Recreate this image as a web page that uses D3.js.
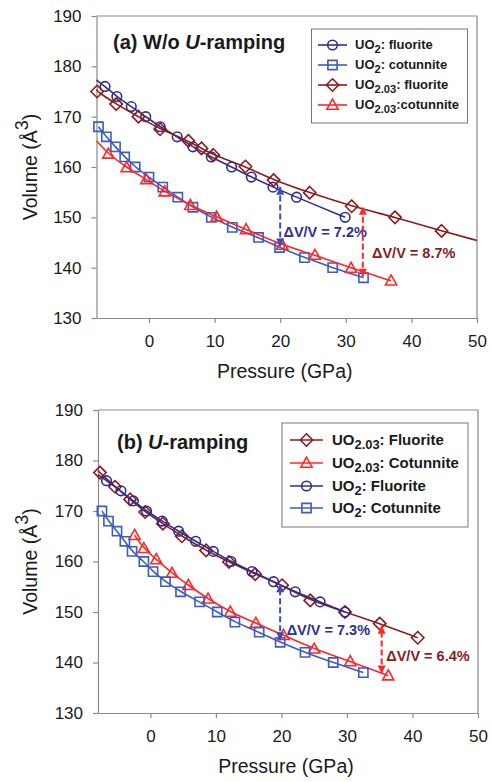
<!DOCTYPE html>
<html>
<head>
<meta charset="utf-8">
<script src="https://cdn.jsdelivr.net/npm/d3@7"></script>
<style>
  body { margin: 0; background: #fff; }
  text { font-family: "Liberation Sans", Arial, sans-serif; }
</style>
</head>
<body>
<svg width="491" height="782"></svg>
<script>
// ---- values ----
var volumeTicks = [130, 140, 150, 160, 170, 180, 190];
var pressureTicks = [0, 10, 20, 30, 40, 50];

// (a) W/o U-ramping
var aUO2FluP = [-6.7, -4.9, -2.7, -0.5, 1.7, 4.3, 6.7, 9.5, 12.6, 15.6, 18.9, 22.5, 29.9];
var aUO2FluV = [176, 174, 172, 170, 168, 166, 164, 162, 160, 158, 156, 154, 150];
var aUO2CotP = [-7.7, -6.5, -5.1, -3.7, -2.1, 0, 2.1, 4.4, 6.7, 9.5, 12.7, 16.7, 19.9, 23.7, 28, 32.7];
var aUO2CotV = [168, 166, 164, 162, 160, 158, 156, 154, 152, 150, 148, 146, 144, 142, 140, 138];
var aUO203FluP = [-7.9, -5, -1.6, 1.7, 6, 8, 9.8, 14.7, 19, 24.5, 30.9, 37.5, 44.6];
var aUO203FluV = [175, 172.5, 170, 167.5, 165.2, 163.7, 162.4, 160.1, 157.4, 154.9, 152.2, 150, 147.3];
var aUO203CotP = [-6.2, -3.4, -0.4, 2.4, 6.3, 10.3, 14.8, 20.3, 25.3, 30.8, 36.9];
var aUO203CotV = [162.6, 159.9, 157.5, 155.1, 152.4, 150.1, 147.6, 144.5, 142.5, 139.9, 137.4];

// (b) U-ramping
var bUO203FluP = [-7.7, -5.4, -3.1, -0.8, 1.9, 4.8, 8.5, 12, 16, 20.1, 24.4, 29.7, 35, 40.8];
var bUO203FluV = [177.6, 174.8, 172.3, 169.8, 167.5, 165, 162.2, 159.9, 157.5, 155.3, 152.3, 150, 147.7, 144.9];
var bUO203CotP = [-2.4, -1, 0.9, 3.3, 5.8, 8.8, 12.2, 16.1, 20.3, 25, 30.5, 36.3];
var bUO203CotV = [165.2, 162.6, 160.4, 157.7, 155.3, 152.6, 150, 147.8, 145.4, 142.7, 140.2, 137.4];
var bUO2FluP = [-6.7, -4.5, -2.6, -0.6, 1.8, 4.3, 6.9, 9.6, 12.3, 15.5, 18.8, 22.1, 25.9, 29.7];
var bUO2FluV = [176, 174, 172, 170, 168, 166, 164, 162, 160, 158, 156, 154, 152, 150];
var bUO2CotP = [-7.4, -6.4, -5.1, -3.9, -2.8, -1, 0.4, 2.3, 4.6, 7.5, 10.2, 12.9, 16.6, 19.8, 23.6, 27.9, 32.5];
var bUO2CotV = [170, 168, 166, 164, 162, 160, 158, 156, 154, 152, 150, 148, 146, 144, 142, 140, 138];

var NAVY = "#2e2e8e", BLUE = "#3c5cbf", DKRED = "#8b1c1c", RED = "#ff2626";

function zipPV(p, v) { return p.map(function (d, i) { return [d, v[i]]; }); }

var panels = [
  {
    top: 16, bottom: 318, left: 96.5, right: 477,
    title: ["(a) W/o ", "U", "-ramping"], titleX: 113, titleY: 49,
    series: [
      { name: ["UO", "2", ": fluorite"], color: NAVY, shape: "circle", pts: zipPV(aUO2FluP, aUO2FluV), start: [-8, 177.3] },
      { name: ["UO", "2", ": cotunnite"], color: BLUE, shape: "square", pts: zipPV(aUO2CotP, aUO2CotV) },
      { name: ["UO", "2.03", ": fluorite"], color: DKRED, shape: "diamond", pts: zipPV(aUO203FluP, aUO203FluV), start: [-8, 175.4], end: [50, 145.4] },
      { name: ["UO", "2.03", ":cotunnite"], color: RED, shape: "triangle", pts: zipPV(aUO203CotP, aUO203CotV), start: [-8, 165.2] }
    ],
    legend: { x0: 311.5, y0: 29, w: 156, h: 94, rows: [45, 65, 85, 105], l0: 318, l1: 347, tx: 355, fs: 13 },
    arrows: [
      { p: 20, v0: 144.2, v1: 156.1, color: "#3a4db5", label: "\u0394V/V = 7.2%", lp: 20.5, lv: 147, lc: "#2e3192" },
      { p: 32.6, v0: 138.2, v1: 152.1, color: RED, label: "\u0394V/V = 8.7%", lp: 34, lv: 142.9, lc: DKRED }
    ]
  },
  {
    top: 410, bottom: 713, left: 98, right: 478,
    title: ["(b) ", "U", "-ramping"], titleX: 117, titleY: 449,
    series: [
      { name: ["UO", "2.03", ": Fluorite"], color: DKRED, shape: "diamond", pts: zipPV(bUO203FluP, bUO203FluV), start: [-8, 178] },
      { name: ["UO", "2.03", ": Cotunnite"], color: RED, shape: "triangle", pts: zipPV(bUO203CotP, bUO203CotV) },
      { name: ["UO", "2", ": Fluorite"], color: NAVY, shape: "circle", pts: zipPV(bUO2FluP, bUO2FluV), start: [-8, 177.2] },
      { name: ["UO", "2", ": Cotunnite"], color: BLUE, shape: "square", pts: zipPV(bUO2CotP, bUO2CotV) }
    ],
    legend: { x0: 282, y0: 423, w: 186, h: 104, rows: [440, 463, 486, 508], l0: 290, l1: 323, tx: 332, fs: 15 },
    arrows: [
      { p: 19.8, v0: 144.4, v1: 155.5, color: "#3a4db5", label: "\u0394V/V = 7.3%", lp: 20.8, lv: 146.5, lc: "#2e3192" },
      { p: 35.3, v0: 137.8, v1: 147.3, color: RED, label: "\u0394V/V = 6.4%", lp: 36, lv: 141.2, lc: DKRED }
    ]
  }
];

var svg = d3.select("svg");

// arrowheads
var defs = svg.append("defs");
["#3a4db5", RED].forEach(function (c, i) {
  defs.append("marker")
    .attr("id", "ah" + i)
    .attr("viewBox", "0 0 10 10")
    .attr("refX", 10).attr("refY", 5)
    .attr("markerWidth", 9).attr("markerHeight", 8)
    .attr("markerUnits", "userSpaceOnUse")
    .attr("orient", "auto-start-reverse")
    .append("path").attr("d", "M0,0 L10,5 L0,10 z").attr("fill", c);
});

function shapePath(shape) {
  if (shape === "circle") return "M-4.8,0 A4.8,4.8 0 1,0 4.8,0 A4.8,4.8 0 1,0 -4.8,0 Z";
  if (shape === "square") return "M-4.6,-4.6 H4.6 V4.6 H-4.6 Z";
  if (shape === "diamond") return "M0,-6.2 L6.2,0 L0,6.2 L-6.2,0 Z";
  return "M0,-5.8 L5.6,4.2 L-5.6,4.2 Z";
}

function sub(textSel, parts, fs) {
  textSel.append("tspan").text(parts[0]);
  textSel.append("tspan").attr("dy", fs * 0.32).attr("font-size", fs * 0.86).text(parts[1]);
  textSel.append("tspan").attr("dy", -fs * 0.32).text(parts[2]);
}

panels.forEach(function (pn) {
  var x = d3.scaleLinear().domain([-8, 50]).range([pn.left, pn.right]);
  var y = d3.scaleLinear().domain([130, 190]).range([pn.bottom, pn.top]);
  var g = svg.append("g");

  // frame top/right
  g.append("path")
    .attr("d", "M" + pn.left + "," + pn.top + " H" + pn.right + " V" + pn.bottom)
    .attr("fill", "none").attr("stroke", "#8a8a8a").attr("stroke-width", 1.2);

  var yAxis = g.append("g")
    .attr("transform", "translate(" + pn.left + ",0)")
    .call(d3.axisLeft(y).tickValues(volumeTicks).tickSize(5).tickSizeOuter(0).tickPadding(10));
  var xAxis = g.append("g")
    .attr("transform", "translate(0," + pn.bottom + ")")
    .call(d3.axisBottom(x).tickValues(pressureTicks).tickSize(5).tickSizeOuter(0).tickPadding(12));
  [xAxis, yAxis].forEach(function (a) {
    a.select(".domain").attr("stroke", "#8a8a8a").attr("stroke-width", 1.2);
    a.selectAll("line").attr("stroke", "#8a8a8a").attr("stroke-width", 1.2);
    a.selectAll("text").attr("font-size", 17).attr("fill", "#1a1a1a")
      .attr("font-family", "Liberation Sans, Arial, sans-serif");
  });

  // axis titles
  g.append("text")
    .attr("x", (pn.left + pn.right) / 2 - 2).attr("y", pn.bottom + 60)
    .attr("text-anchor", "middle").attr("font-size", 19.5).attr("fill", "#1a1a1a")
    .text("Pressure (GPa)");
  var yl = g.append("text")
    .attr("transform", "translate(37," + ((pn.top + pn.bottom) / 2) + ") rotate(-90)")
    .attr("text-anchor", "middle").attr("font-size", 19.5).attr("fill", "#1a1a1a");
  yl.append("tspan").text("Volume (\u00c5");
  yl.append("tspan").attr("dy", -9).attr("font-size", 18).text("3");
  yl.append("tspan").attr("dy", 9).text(")");

  // title
  var tt = g.append("text").attr("x", pn.titleX).attr("y", pn.titleY)
    .attr("font-size", 20).attr("font-weight", "bold").attr("fill", "#1a1a1a");
  tt.append("tspan").text(pn.title[0]);
  tt.append("tspan").attr("font-style", "italic").text(pn.title[1]);
  tt.append("tspan").text(pn.title[2]);

  var line = d3.line()
    .x(function (d) { return x(d[0]); })
    .y(function (d) { return y(d[1]); })
    .curve(d3.curveBasis);

  pn.series.forEach(function (s) {
    var lp = s.pts.slice();
    if (s.start) lp.unshift(s.start);
    if (s.end) lp.push(s.end);
    g.append("path").datum(lp)
      .attr("d", line).attr("fill", "none")
      .attr("stroke", s.color).attr("stroke-width", 1.6);
    g.selectAll(null).data(s.pts).enter().append("path")
      .attr("d", shapePath(s.shape))
      .attr("transform", function (d) { return "translate(" + x(d[0]) + "," + y(d[1]) + ")"; })
      .attr("fill", "none").attr("stroke", s.color).attr("stroke-width", 1.6);
  });

  // dV/V arrows
  pn.arrows.forEach(function (a) {
    var mi = a.color === RED ? 1 : 0;
    g.append("line")
      .attr("x1", x(a.p)).attr("x2", x(a.p))
      .attr("y1", y(a.v0)).attr("y2", y(a.v1))
      .attr("stroke", a.color).attr("stroke-width", 2)
      .attr("stroke-dasharray", "6,3")
      .attr("marker-start", "url(#ah" + mi + ")")
      .attr("marker-end", "url(#ah" + mi + ")");
    g.append("text")
      .attr("x", x(a.lp)).attr("y", y(a.lv))
      .attr("dominant-baseline", "central")
      .attr("font-size", 14.5).attr("font-weight", "bold").attr("fill", a.lc)
      .text(a.label);
  });

  // legend
  var L = pn.legend;
  g.append("rect")
    .attr("x", L.x0).attr("y", L.y0).attr("width", L.w).attr("height", L.h)
    .attr("fill", "#fff").attr("stroke", "#777").attr("stroke-width", 1);
  pn.series.forEach(function (s, i) {
    var ry = L.rows[i];
    g.append("line").attr("x1", L.l0).attr("x2", L.l1).attr("y1", ry).attr("y2", ry)
      .attr("stroke", s.color).attr("stroke-width", 1.6);
    g.append("path").attr("d", shapePath(s.shape))
      .attr("transform", "translate(" + ((L.l0 + L.l1) / 2) + "," + ry + ")")
      .attr("fill", "none").attr("stroke", s.color).attr("stroke-width", 1.6);
    var t = g.append("text").attr("x", L.tx).attr("y", ry + L.fs * 0.3)
      .attr("font-size", L.fs).attr("font-weight", "bold").attr("fill", "#1a1a1a");
    sub(t, s.name, L.fs);
  });
});
</script>
</body>
</html>
